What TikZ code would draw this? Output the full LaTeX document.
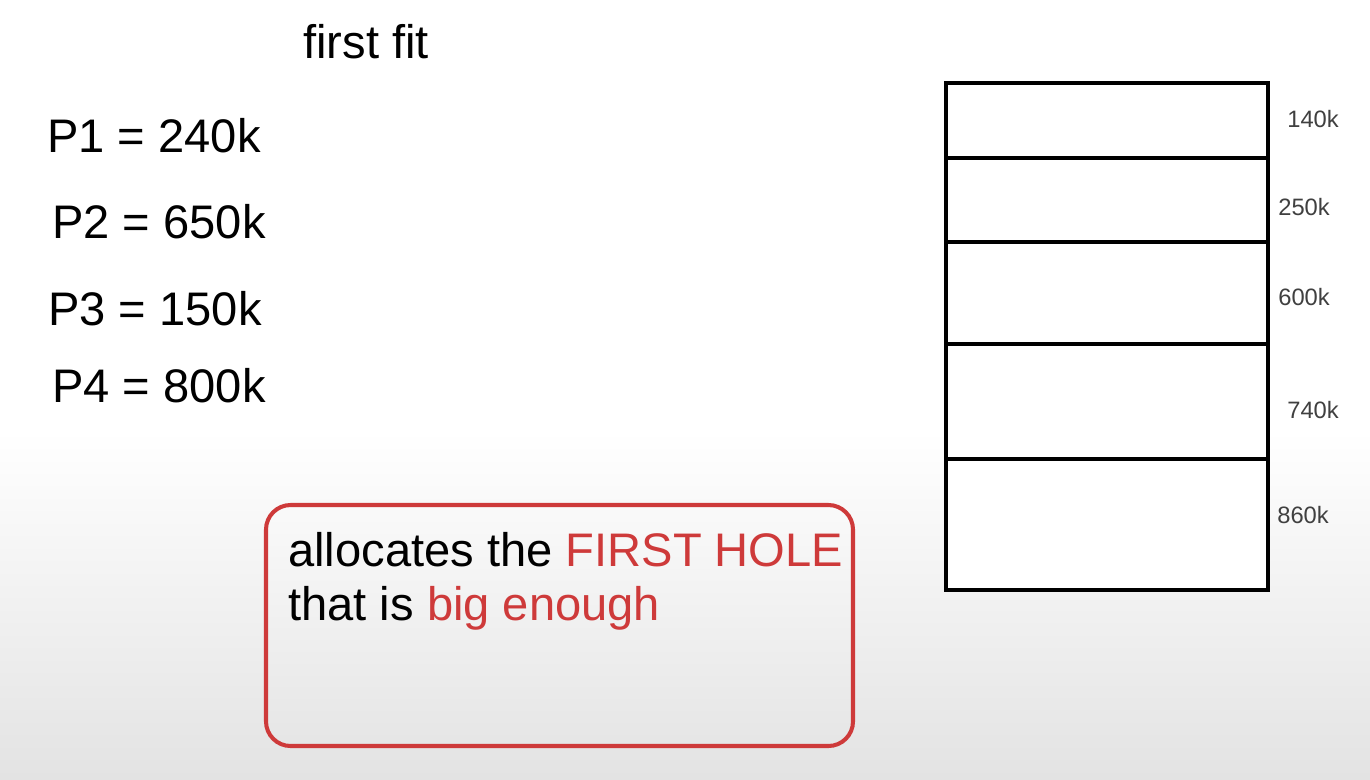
\documentclass[tikz,border=0pt]{standalone}
\usepackage{fontspec}
\setmainfont{Liberation Sans}
\definecolor{holered}{RGB}{206,58,58}
\tikzset{
  big/.style={inner sep=0pt, anchor=base west, font=\fontsize{26.8}{31}\selectfont},
  size/.style={inner sep=0pt, anchor=base west, font=\fontsize{13.5}{15}\selectfont, text=black!75},
}
\begin{document}
\begin{tikzpicture}[x=0.02cm, y=-0.02cm]
	\useasboundingbox (0,0) rectangle (1370,779);
	% background
	\fill[white] (0,0) rectangle (1370,430);
	\shade[top color=white, bottom color=black!11] (0,430) rectangle (1370,779);
	% title and processes
	\node[big] (title) at (303,58) {first fit};
	\node[big] (P1) at (47,152) {P1 = 240k};
	\node[big] (P2) at (52,238) {P2 = 650k};
	\node[big] (P3) at (48,325) {P3 = 150k};
	\node[big] (P4) at (52,402) {P4 = 800k};
	% memory holes
	\foreach \top/\bot in {83/158, 158/242, 242/344, 344/459, 459/590}
		\draw[line width=2.3pt, fill=white] (946,\top) rectangle (1268,\bot);
	\node[size] (h1) at (1287,127) {140k};
	\node[size] (h2) at (1278,215) {250k};
	\node[size] (h3) at (1278,305) {600k};
	\node[size] (h4) at (1287,418) {740k};
	\node[size] (h5) at (1277,523) {860k};
	% note
	\draw[holered, line width=2.3pt, rounded corners=14pt, top color=black!2, bottom color=black!10] (266,505) rectangle (853,746);
	\node[big] (line1) at (288,566) {allocates the \textcolor{holered}{FIRST HOLE}};
	\node[big] (line2) at (288,620) {that is \textcolor{holered}{big enough}};
\end{tikzpicture}
\end{document}
